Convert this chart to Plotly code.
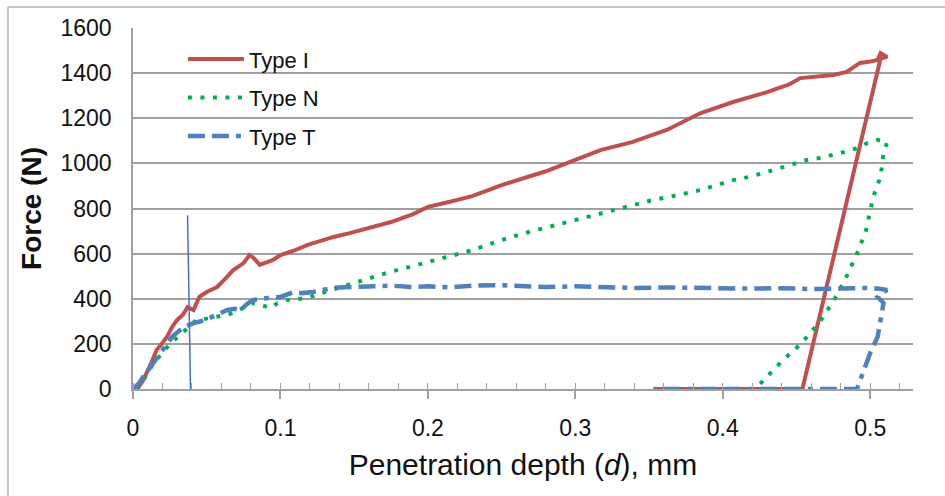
import plotly.graph_objects as go

# ---------------- data ----------------
typeI_d = [0.003, 0.007, 0.012, 0.016, 0.020, 0.023, 0.027, 0.030, 0.034, 0.037,
           0.041, 0.045, 0.050, 0.057, 0.062, 0.068, 0.072, 0.075, 0.079, 0.082,
           0.086, 0.090, 0.095, 0.100, 0.104, 0.110, 0.118, 0.125, 0.136, 0.147,
           0.160, 0.175, 0.190, 0.200, 0.215, 0.230, 0.250, 0.265, 0.280, 0.300,
           0.317, 0.339, 0.362, 0.385, 0.407, 0.430, 0.445, 0.4525, 0.465, 0.475,
           0.484, 0.493, 0.499, 0.505, 0.507, 0.510, 0.5115, 0.507, 0.454, 0.353]
typeI_F = [0, 40, 110, 173, 205, 231, 280, 306, 330, 363,
           350, 408, 430, 452, 485, 527, 545, 558, 594, 580,
           550, 560, 572, 594, 603, 615, 638, 652, 674, 691,
           715, 740, 775, 807, 830, 855, 904, 935, 965, 1015,
           1059, 1095, 1148, 1223, 1272, 1316, 1350, 1378, 1385, 1392,
           1405, 1445, 1450, 1458, 1489, 1475, 1472, 1465, 0, 0]

typeN_d = [0.002, 0.008, 0.0135, 0.0195, 0.025, 0.0305, 0.037, 0.043, 0.050, 0.057,
           0.063, 0.068, 0.075, 0.081, 0.087, 0.093, 0.098, 0.104, 0.111, 0.118,
           0.128, 0.140, 0.150, 0.161, 0.175, 0.190, 0.200, 0.215, 0.230, 0.250,
           0.265, 0.280, 0.300, 0.320, 0.338, 0.353, 0.370, 0.385, 0.407, 0.418,
           0.430, 0.445, 0.457, 0.467, 0.475, 0.482, 0.490, 0.498, 0.505, 0.5115,
           0.509, 0.507, 0.502, 0.497, 0.491, 0.484, 0.476, 0.466, 0.453, 0.441,
           0.430, 0.422]
typeN_F = [0, 50, 110, 160, 200, 231, 270, 306, 312, 319,
           328, 337, 360, 381, 372, 359, 380, 394, 398, 403,
           425, 452, 470, 492, 520, 545, 563, 590, 615, 660,
           690, 715, 749, 785, 815, 838, 860, 882, 926, 940,
           962, 990, 1015, 1025, 1037, 1050, 1065, 1090, 1104, 1095,
           1046, 940, 851, 700, 600, 500, 400, 300, 200, 129,
           55, 0]

typeT_d = [0.000, 0.004, 0.0068, 0.0136, 0.018, 0.023, 0.027, 0.032, 0.036, 0.041,
           0.046, 0.052, 0.058, 0.064, 0.069, 0.073, 0.077, 0.081, 0.091, 0.100,
           0.109, 0.115, 0.122, 0.136, 0.147, 0.160, 0.175, 0.190, 0.200, 0.215,
           0.230, 0.250, 0.265, 0.280, 0.300, 0.320, 0.340, 0.360, 0.380, 0.400,
           0.420, 0.440, 0.460, 0.480, 0.495, 0.505, 0.5115, 0.509, 0.505, 0.509,
           0.507, 0.505, 0.500, 0.4966, 0.493, 0.491, 0.353]
typeT_F = [0, 25, 53, 115, 160, 204, 235, 261, 278, 292,
           300, 315, 330, 350, 355, 350, 375, 394, 403, 408,
           430, 425, 430, 448, 452, 455, 458, 452, 455, 450,
           458, 460, 455, 452, 455, 450, 448, 450, 447, 448,
           445, 447, 443, 445, 448, 445, 439, 430, 408, 381,
           293, 231, 160, 98, 40, 0, 0]

marker_d = [0.037, 0.039]
marker_F = [770, 0]

x_ticks = [0, 0.1, 0.2, 0.3, 0.4, 0.5]
x_labels = ["0", "0.1", "0.2", "0.3", "0.4", "0.5"]
y_ticks = [0, 200, 400, 600, 800, 1000, 1200, 1400, 1600]

# ---------------- figure ----------------
FONT = "Liberation Sans, Arial, sans-serif"
fig = go.Figure()

fig.add_trace(go.Scatter(x=typeI_d, y=typeI_F, mode="lines", name="Type I",
                         legendgroup="a",
                         line=dict(color="#C0504D", width=4)))
fig.add_trace(go.Scatter(x=typeN_d, y=typeN_F, mode="lines", name="Type N",
                         legendgroup="b",
                         line=dict(color="#00B050", width=4, dash="4px,8.5px")))
fig.add_trace(go.Scatter(x=typeT_d, y=typeT_F, mode="lines", name="Type T",
                         legendgroup="c",
                         line=dict(color="#4F81BD", width=4.5,
                                   dash="17px,7px,17px,7px,5px,7px")))
fig.add_trace(go.Scatter(x=marker_d, y=marker_F, mode="lines", showlegend=False,
                         line=dict(color="#4472C4", width=1.5)))

fig.update_layout(
    width=945, height=496,
    margin=dict(l=133, r=32, t=28, b=107),
    paper_bgcolor="white", plot_bgcolor="white",
    font=dict(family=FONT, size=23, color="#111111"),
    showlegend=True,
    legend=dict(x=0.064, y=0.972, xanchor="left", yanchor="top",
                bgcolor="rgba(0,0,0,0)", font=dict(size=22, color="#111111"),
                itemwidth=56, tracegroupgap=7),
    xaxis=dict(range=[0, 0.529], tickvals=x_ticks, ticktext=x_labels,
               showgrid=False, zeroline=False, automargin=False,
               showline=True, linecolor="#A0A0A0", linewidth=1.5,
               ticks="outside", ticklen=8, tickcolor="#A0A0A0", tickwidth=1.5,
               ticklabelstandoff=10,
               minor=dict(dtick=0.02, tick0=0, ticks="inside", ticklen=6,
                          tickcolor="#A0A0A0", tickwidth=1.2, showgrid=False),
               title=dict(text="Penetration depth (<i>d</i>), mm",
                          font=dict(size=30), standoff=14)),
    yaxis=dict(range=[0, 1600], tickvals=y_ticks, automargin=False,
               showgrid=True, gridcolor="#A0A0A0", gridwidth=1.5,
               zeroline=False, showline=True, linecolor="#A0A0A0", linewidth=1.5,
               ticks="", ticklabelstandoff=15,
               title=dict(text="<b>Force (N)</b>", font=dict(size=28), standoff=11)),
    shapes=[
        dict(type="line", xref="paper", yref="paper",
             x0=-0.1603, x1=-0.1603, y0=1.058, y1=-0.30,
             line=dict(color="#C8C8C8", width=2)),
        dict(type="line", xref="paper", yref="paper",
             x0=-0.1603, x1=1.05, y0=1.058, y1=1.058,
             line=dict(color="#C8C8C8", width=2)),
    ],
)

fig.write_html("out.html")
